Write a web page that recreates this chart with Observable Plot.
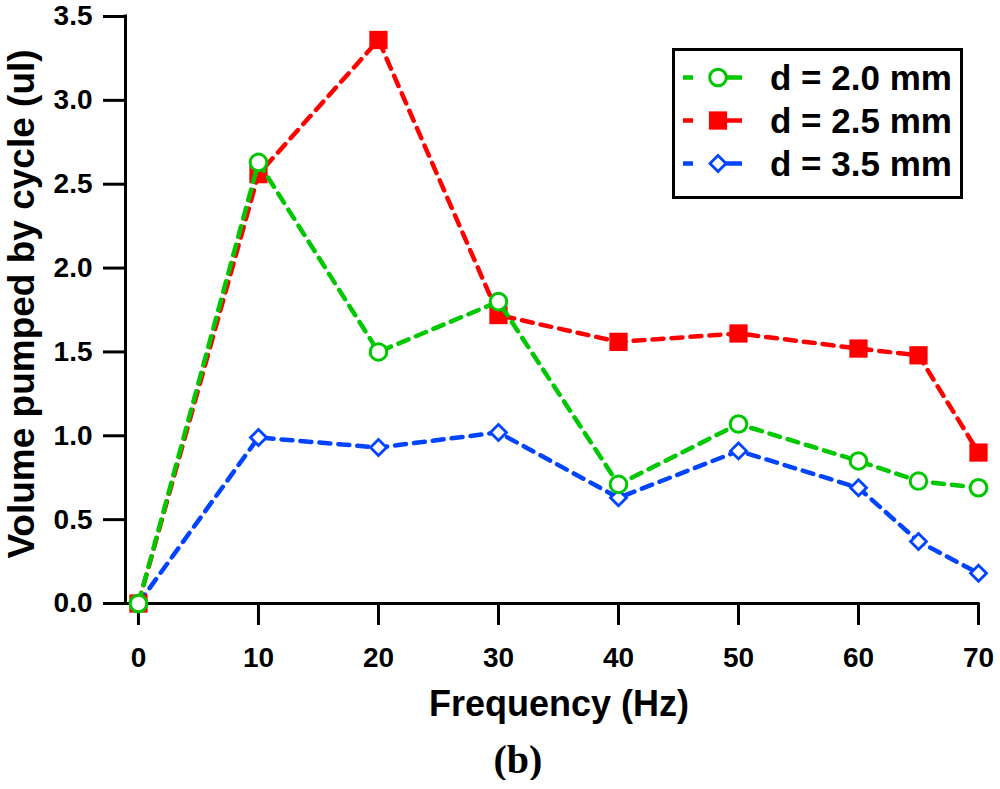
<!DOCTYPE html>
<html>
<head>
<meta charset="utf-8">
<script src="https://cdn.jsdelivr.net/npm/d3@7"></script>
<script src="https://cdn.jsdelivr.net/npm/@observablehq/plot@0.6"></script>
<style>
  body { margin: 0; background: #fff; }
  #wrap { position: relative; width: 1000px; }
  #legend {
    position: absolute; left: 672px; top: 48px; width: 285px; height: 140px;
    border: 3px solid #000; background: #fff;
    font-family: "Liberation Sans", Arial, sans-serif; font-weight: bold; font-size: 35px;
    padding-top: 5px; box-sizing: content-box;
  }
  #legend .row { height: 43px; display: flex; align-items: center; }
  #legend svg { margin-right: 15px; }
  #caption {
    width: 1000px; text-align: center; padding-left: 36px; box-sizing: border-box;
    font-family: "Liberation Serif", "Times New Roman", serif; font-weight: bold;
    font-size: 40px; line-height: 40px; margin-top: 0px;
  }
  g[aria-label="x-axis tick"], g[aria-label="y-axis tick"] { stroke-width: 3px; }
</style>
</head>
<body>
<div id="wrap">
  <div id="chart"></div>
  <div id="legend"></div>
</div>
<div id="caption">(b)</div>
<script>
const freq = [0, 10, 20, 30, 40, 50, 60, 65, 70]
const d20 = [0, 2.63, 1.50, 1.80, 0.71, 1.07, 0.85, 0.73, 0.69]
const d25 = [0, 2.56, 3.36, 1.72, 1.56, 1.61, 1.52, 1.48, 0.90]
const d35 = [0, 0.99, 0.93, 1.02, 0.63, 0.91, 0.69, 0.37, 0.18]

const seriesNames = ['d = 2.0 mm', 'd = 2.5 mm', 'd = 3.5 mm']
const seriesColors = ['#00c800', '#ff0000', '#0044ff']
const seriesSymbols = ['circle', 'square', 'diamond2']

const xTicks = [0, 10, 20, 30, 40, 50, 60, 70]
const yTicks = [0, 0.5, 1.0, 1.5, 2.0, 2.5, 3.0, 3.5]
const xTitle = 'Frequency (Hz)'
const yTitle = 'Volume pumped by cycle (ul)'

const toRows = vals => freq.map((f, i) => ({f, v: vals[i]}))
const rows = [toRows(d20), toRows(d25), toRows(d35)]

const dash = '11,8'
const dotStyle = [
  {r: 8.3, fill: 'white', stroke: seriesColors[0], strokeWidth: 3},
  {r: 10.3, fill: seriesColors[1], stroke: 'none'},
  {r: 7.2, fill: 'white', stroke: seriesColors[2], strokeWidth: 2.8},
]

// draw blue first, then red, green on top
const seriesMarks = [2, 1, 0].flatMap(k => [
  Plot.line(rows[k], {x: 'f', y: 'v', stroke: seriesColors[k], strokeWidth: 4.5, strokeDasharray: dash}),
  Plot.dot(rows[k], {x: 'f', y: 'v', symbol: () => seriesSymbols[k], ...dotStyle[k]}),
])

let chart = Plot.plot({
  width: 1000,
  height: 740,
  marginLeft: 125,
  marginRight: 22,
  marginTop: 16,
  marginBottom: 137,
  x: {domain: [-1.08, 70], ticks: xTicks, tickSize: 22, tickPadding: 22, label: null},
  y: {domain: [0, 3.5], ticks: yTicks, tickSize: 22, tickPadding: 11, label: null, tickFormat: d3.format('.1f')},
  symbol: {type: 'identity'},
  marks: [
    Plot.ruleY([0], {strokeWidth: 3, strokeLinecap: 'square'}),
    Plot.ruleX([-1.08], {strokeWidth: 3, strokeLinecap: 'square'}),
    ...seriesMarks,
    Plot.text([xTitle], {frameAnchor: 'bottom', textAnchor: 'middle', dx: 7, dy: 101, fontSize: 36, fontWeight: 'bold', fill: 'black', lineAnchor: 'middle'}),
    Plot.text([yTitle], {frameAnchor: 'left', textAnchor: 'middle', rotate: -90, dx: -103, dy: -6, fontSize: 37, fontWeight: 'bold', fill: 'black', lineAnchor: 'middle'}),
  ],
  style: {
    background: '#ffffff',
    color: '#000',
    fontFamily: 'Liberation Sans, Arial, sans-serif',
    fontWeight: 'bold',
    fontSize: '28px',
    overflow: 'visible',
  }
})
d3.select('#chart').append(() => chart)

// legend
const legend = d3.select('#legend')
seriesNames.forEach((name, k) => {
  const row = legend.append('div').attr('class', 'row')
  const svg = row.append('svg').attr('width', 80).attr('height', 43)
  svg.append('line').attr('x1', 8).attr('x2', 18).attr('y1', 21.5).attr('y2', 21.5)
    .attr('stroke', seriesColors[k]).attr('stroke-width', 4.5)
  svg.append('line').attr('x1', 43).attr('x2', 67).attr('y1', 21.5).attr('y2', 21.5)
    .attr('stroke', seriesColors[k]).attr('stroke-width', 4.5)
  const st = dotStyle[k]
  const sym = d3.symbol().type({circle: d3.symbolCircle, square: d3.symbolSquare, diamond2: d3.symbolDiamond2}[seriesSymbols[k]])
    .size(Math.PI * st.r * st.r)
  svg.append('path').attr('d', sym()).attr('transform', 'translate(43,21.5)')
    .attr('fill', st.fill).attr('stroke', st.stroke).attr('stroke-width', st.strokeWidth || 0)
  row.append('span').text(name)
})
</script>
</body>
</html>
